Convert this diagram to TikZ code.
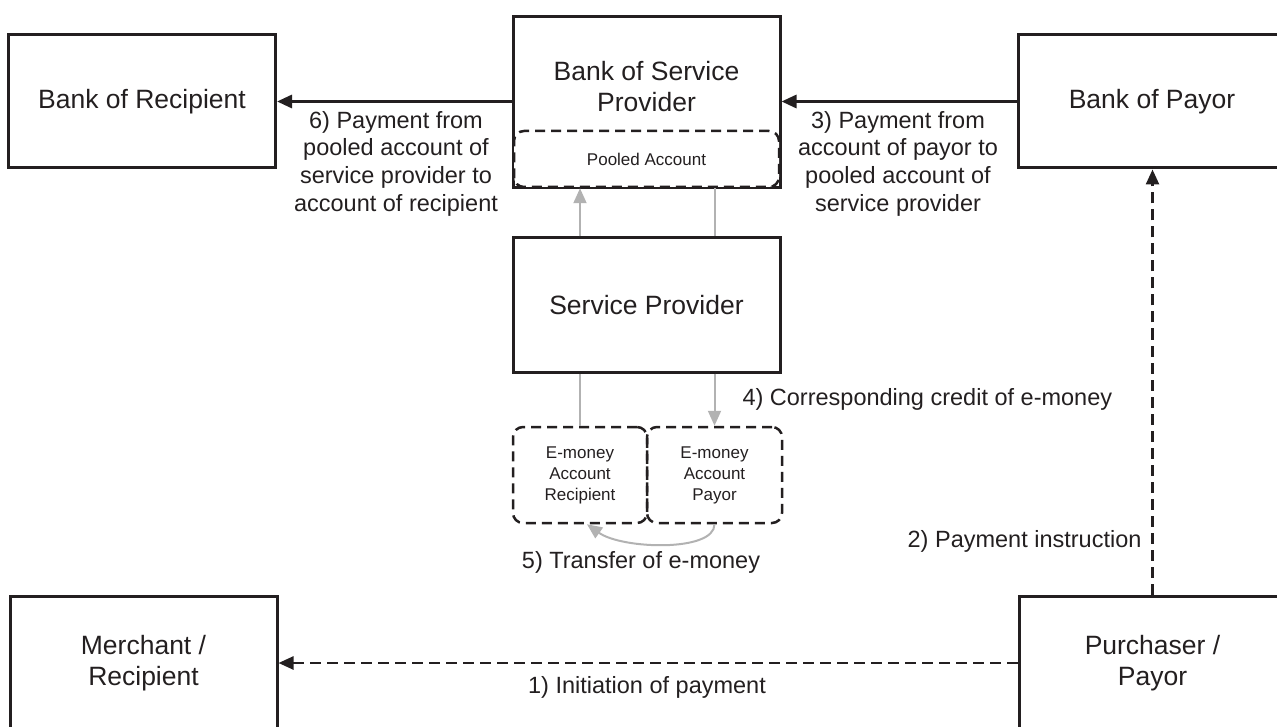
\documentclass[tikz,border=0pt]{standalone}
\usepackage{fontspec}
\setmainfont{Liberation Sans}
\usetikzlibrary{arrows.meta}
\definecolor{ink}{RGB}{35,31,32}
\definecolor{flow}{RGB}{178,178,178}

\begin{document}
\begin{tikzpicture}[x=1pt, y=-1pt, every node/.style={text=ink}]
    \tikzset{>={Triangle[length=15pt,width=13pt]}}
    \tikzset{party/.style={draw=ink, line width=3pt, minimum width=267pt, minimum height=133pt, align=center, font=\fontsize{26.5}{31}\selectfont},
      account/.style={draw=ink, line width=2.5pt, dash pattern=on 10pt off 6pt, rounded corners=10pt, align=center, font=\fontsize{17}{21}\selectfont},
      note/.style={align=center, font=\fontsize{23.5}{27.7}\selectfont},
      flowline/.style={flow, line width=2pt}}
    \useasboundingbox (0,0) rectangle (1277,727);
    \clip (0,0) rectangle (1277,727);
    % the parties
    \node[party] (bankrec) at (142,101.5) {Bank of Recipient};
    \node[party, minimum height=171pt] (banksp) at (646.5,102.5) {};
    \node[font=\fontsize{26.5}{31}\selectfont, align=center] (bankspname) at (646.5,87) {Bank of Service\\Provider};
    \node[account, fill=white, minimum width=265pt, minimum height=56pt] (pooled) at (646.5,159) {Pooled Account};
    \node[party] (bankpay) at (1152,101.5) {Bank of Payor};
    \node[party, minimum height=134pt] (sp) at (646.5,305) {Service Provider};
    \node[party, minimum height=134pt] (merch) at (143.5,663) {Merchant /\\Recipient};
    \node[party, minimum height=134pt] (purch) at (1152.5,663) {Purchaser /\\Payor};
    \node[account, minimum width=134pt, minimum height=96pt] (emrec) at (580,475) {E-money\\Account\\Recipient};
    \node[account, minimum width=135pt, minimum height=96pt] (empay) at (714.5,475) {E-money\\Account\\Payor};
    % payments between banks
    \draw[->, ink, line width=3pt] (bankpay.west) -- (bankpay.west -| banksp.east);
    \draw[->, ink, line width=3pt] (banksp.west |- bankrec.east) -- (bankrec.east);
    \draw[->, ink, line width=2.5pt, dash pattern=on 11pt off 6pt] (purch.north) -- (purch.north |- bankpay.south);
    \draw[->, ink, line width=2.5pt, dash pattern=on 11pt off 6pt] (purch.west) -- (merch.east);
    % e-money flows
    \draw[flowline] (emrec.north) -- (emrec.north |- sp.south);
    \draw[flowline, ->] (emrec.north |- sp.north) -- (emrec.north |- pooled.south);
    \draw[flowline] (empay.north |- pooled.south) -- (empay.north |- sp.north);
    \draw[flowline, ->] (empay.north |- sp.south) -- (empay.north);
    \draw[flowline, ->] (empay.south) .. controls +(0,28) and +(35,25) .. ([xshift=7pt]emrec.south);
    % labels
    \node[note] (lbl6) at (396,163.5) {6) Payment from\\pooled account of\\service provider to\\account of recipient};
    \node[note] (lbl3) at (898,163.5) {3) Payment from\\account of payor to\\pooled account of\\service provider};
    \node[note, anchor=west] (lbl4) at (739,399) {4) Corresponding credit of e-money};
    \node[note, anchor=east] (lbl2) at (1145,541) {2) Payment instruction};
    \node[note] (lbl5) at (641,562) {5) Transfer of e-money};
    \node[note] (lbl1) at (647,687) {1) Initiation of payment};
\end{tikzpicture}
\end{document}
